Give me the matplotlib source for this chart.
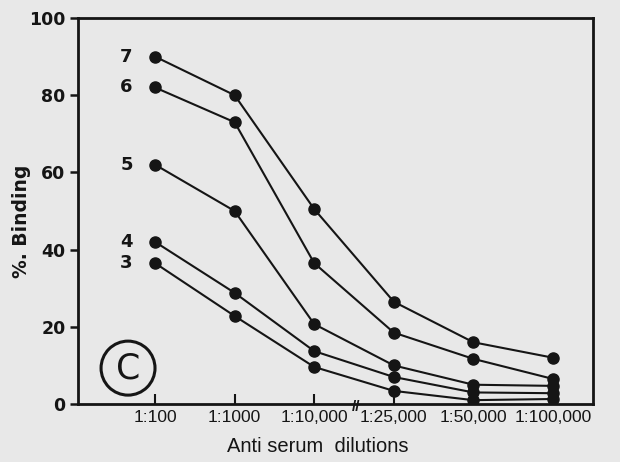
import numpy as np
import matplotlib
matplotlib.use("Agg")
import matplotlib.pyplot as plt
from matplotlib.patches import Ellipse

# dilution categories on the x axis
dilutions = ["1:100", "1:1000", "1:10,000", "1:25,000", "1:50,000", "1:100,000"]

# % binding for each antiserum curve
curve_7 = [90, 80, 50.5, 26.5, 16, 12]
curve_6 = [82, 73, 36.5, 18.5, 11.7, 6.5]
curve_5 = [62, 50, 20.7, 10, 5, 4.7]
curve_4 = [42, 28.8, 13.7, 7, 3, 2.8]
curve_3 = [36.5, 22.8, 9.6, 3.4, 1, 1.3]
curve_names = ["7", "6", "5", "4", "3"]

ink = "#151515"
paper = "#e8e8e8"
narrow = "Liberation Sans"

fig = plt.figure(figsize=(6.2, 4.62), dpi=100, facecolor=paper)
ax = fig.add_axes([0.126, 0.1255, 0.83, 0.8355], facecolor=paper)

x = np.arange(len(dilutions))
for name, vals in zip(curve_names, [curve_7, curve_6, curve_5, curve_4, curve_3]):
    ax.plot(x, vals, color=ink, lw=1.5, marker="o", ms=8, mfc=ink, mec=ink)
    ax.text(x[0] - 0.36, vals[0], name, ha="center", va="center",
            fontsize=13, fontweight="bold", color=ink)

ax.set_xlim(-0.967, 5.5)
ax.set_ylim(0, 100)

ax.set_xticks(x)
ax.set_xticklabels(dilutions, fontsize=12.5, family=narrow, color=ink)
ax.tick_params(axis="x", direction="in", length=7, width=1.5, pad=4, colors=ink)
ax.set_yticks([0, 20, 40, 60, 80, 100])
ax.set_yticklabels(["0", "20", "40", "60", "80", "100"], fontsize=12.5,
                   fontweight="bold", color=ink)
ax.tick_params(axis="y", direction="out", length=6, width=1.8, pad=3, colors=ink)

for sp in ax.spines.values():
    sp.set_linewidth(2)
    sp.set_color(ink)

# axis break mark between 1:10,000 and 1:25,000
ax.text(2.53, -0.8, "//", ha="center", va="center", fontsize=11,
        fontweight="bold", family=narrow, color=ink, clip_on=False)

# circled panel letter
ax.add_patch(Ellipse((0.097, 0.093), 54 / 515, 54 / 386, transform=ax.transAxes,
                     fill=False, ec=ink, lw=2.2))
ax.text(0.097, 0.093, "C", transform=ax.transAxes, ha="center", va="center",
        fontsize=25, color=ink)

fig.text(318 / 620, 1 - 446 / 462, "Anti serum  dilutions", ha="center",
         va="center", fontsize=14.5, family=narrow, color=ink)
fig.text(22 / 620, 1 - 221 / 462, "%. Binding", ha="center", va="center",
         rotation=90, fontsize=13.5, fontweight="bold", color=ink)

fig.savefig("out.png", dpi=100, facecolor=paper)
